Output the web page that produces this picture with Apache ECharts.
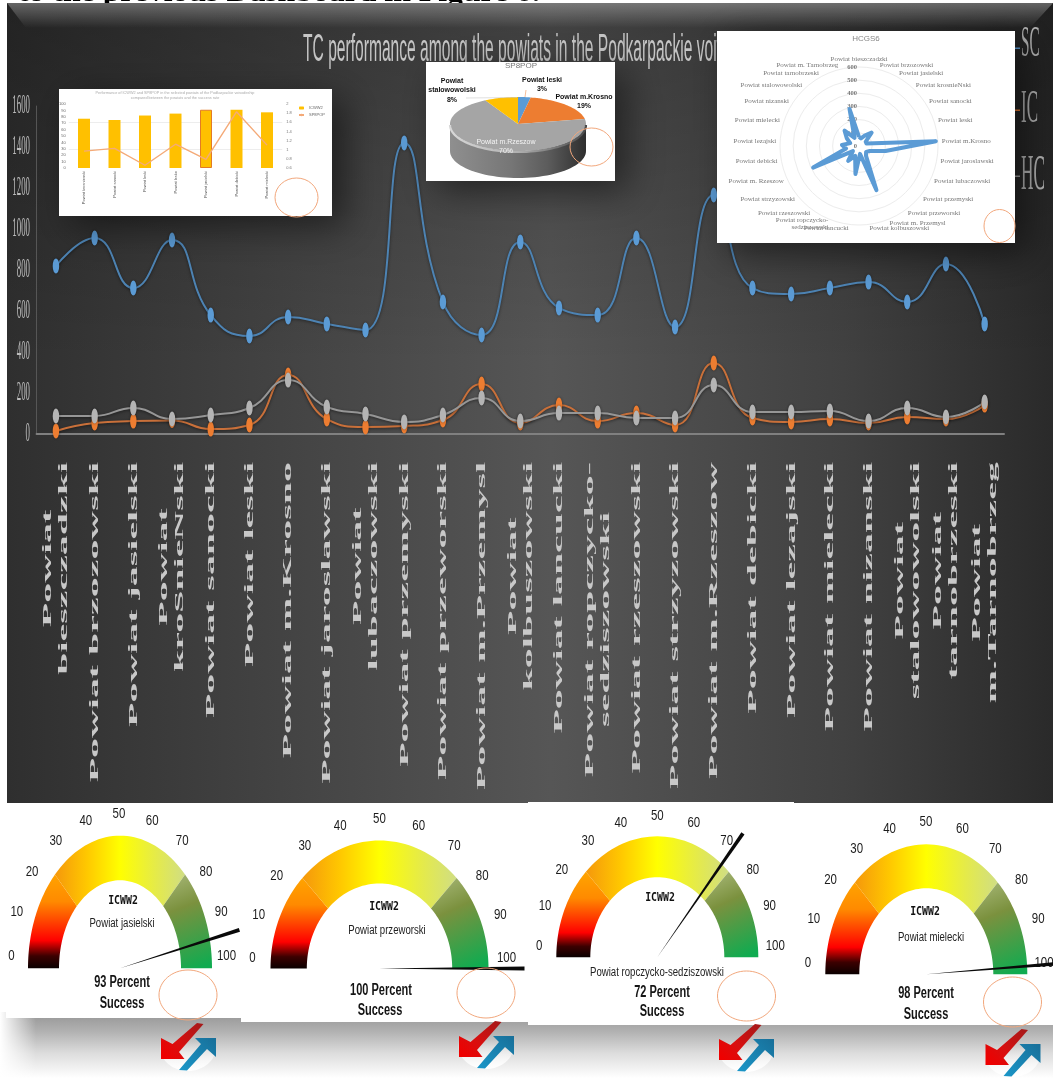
<!DOCTYPE html>
<html>
<head>
<meta charset="utf-8">
<title>TC performance dashboard</title>
<style>html,body{margin:0;padding:0;background:#fff}#chart{width:1053px;height:1078px}</style>
<script src="https://cdn.jsdelivr.net/npm/echarts@6/dist/echarts.min.js"></script>
</head>
<body>
<div id="chart"></div>
<script>
// Values per powiat for the three competence series of the main line chart
const powiatLabels = ['Powiat\nbieszczadzki','Powiat brzozowski','Powiat jasielski','Powiat\nkroSnieNski','Powiat sanocki','Powiat leski','Powiat m.Krosno','Powiat jaroslawski','Powiat\nlubaczowski','Powiat przemyski','Powiat przeworski','Powiat m.Przemysl','Powiat\nkolbuszowski','Powiat lancucki','Powiat ropczycko-\nsedziszowski','Powiat rzeszowski','Powiat strzyzowski','Powiat m.Rzeszow','Powiat debicki','Powiat lezajski','Powiat mielecki','Powiat nizanski','Powiat\nstalowowolski','Powiat\ntarnobrzeski','Powiat\nm.Tarnobrzeg'];
const scValues = [820,956,712,946,580,478,571,537,507,1420,644,483,937,615,580,956,522,1166,712,683,712,741,644,829,537];
const icValues = [15,54,63,66,24,44,288,73,34,39,68,244,54,141,63,102,44,346,78,59,73,54,83,73,141];
const hcValues = [88,88,127,73,93,127,263,132,98,59,93,176,63,102,102,78,78,239,107,107,112,63,127,83,156];
const mainTicks = [0,200,400,600,800,1000,1200,1400,1600];
const mainTitle = 'TC performance among the powiats in the Podkarpackie voivodeship';

// Combination chart in the upper left panel
const comboNames = ['Powiat krosnienski','Powiat sanocki','Powiat leski','Powiat lesko','Powiat jasielski','Powiat debicki','Powiat mielecki'];
const comboBars = [77,75,82,85,91,91,87];
const comboLine = [0.97,1.03,0.66,1.12,0.79,1.83,1.10];
const comboGuides = [1,1.6];

// 3D style pie
const pieNames = ['Powiat leski','Powiat m.Krosno','Powiat m.Rzeszow','Powiat\nstalowowolski'];
const pieValues = [3,19,70,8];

// Radar of HCGS6, listed clockwise from the top
const radarNames = ['Powiat bieszczadzki','Powiat brzozowski','Powiat jasielski','Powiat krosnieNski','Powiat sanocki','Powiat leski','Powiat m.Krosno','Powiat jaroslawski','Powiat lubaczowski','Powiat przemyski','Powiat przeworski','Powiat m. Przemysl','Powiat kolbuszowski','Powiat lancucki','Powiat ropczycko-\nsedziszowski','Powiat rzeszowski','Powiat strzyzowski','Powiat m. Rzeszow','Powiat debicki','Powiat lezajski','Powiat mielecki','Powiat nizanski','Powiat stalowowolski','Powiat tarnobrzeski','Powiat m. Tarnobrzeg'];
const radarValues = [70,60,90,140,60,60,585,205,90,70,90,360,60,215,80,140,60,385,100,130,70,110,160,70,290];

// Success gauges
const gaugeNames = ['Powiat jasielski','Powiat przeworski','Powiat ropczycko-sedziszowski','Powiat mielecki'];
const gaugeValues = [93,100,72,98];
const gaugeTicks = [0,10,20,30,40,50,60,70,80,90,100];

const chart = echarts.init(document.getElementById('chart'), null, {renderer:'canvas'});
const {LinearGradient} = echarts.graphic;
const sansFont = '"Liberation Sans", Arial, sans-serif';
const serifFont = '"Liberation Serif", "Times New Roman", serif';

// Elliptical arc geometry for the half-round gauges
const gaugeLayout = [
  {cx:120, base:968.3, rx:92,  ry:132.6, irx:61,   iry:88, lx:119,   ly:956,   lrx:107.5, lry:142.7, title:[123,901], sub:[122,924], pct:[122,983], ok:[122,1004]},
  {cx:379.5,base:968.5,rx:109, ry:128,   irx:72.7, iry:85, lx:379.5, ly:957.7, lrx:127,   lry:138.7, title:[384,907], sub:[387,931], pct:[381,991], ok:[380,1011]},
  {cx:657.3,base:957.3,rx:101, ry:121,   irx:67,   iry:80, lx:657.3, ly:946,   lrx:118,   lry:130,   title:[660,898], sub:[657,973], pct:[662,993], ok:[662,1012]},
  {cx:926.3,base:974.3,rx:101, ry:130,   irx:67,   iry:86, lx:926,   ly:962.7, lrx:118,   lry:141,   title:[925,912], sub:[931,938], pct:[926,994], ok:[926,1015]}
];

function bandPoints(g, from, to) {
  const pts = [];
  const n = 40;
  for (let i = 0; i <= n; i++) {
    const a = Math.PI * (1 - (from + (to - from) * i / n) / 100);
    pts.push([g.cx + g.rx * Math.cos(a), g.base - g.ry * Math.sin(a)]);
  }
  for (let i = n; i >= 0; i--) {
    const a = Math.PI * (1 - (from + (to - from) * i / n) / 100);
    pts.push([g.cx + g.irx * Math.cos(a), g.base - g.iry * Math.sin(a)]);
  }
  return pts;
}

function renderGauge(gaugeIdx) {
  return function (params, api) {
    const g = gaugeLayout[gaugeIdx];
    const value = api.value(0);
    const top = g.base - g.ry;
    const children = [];
    children.push({type:'polygon', shape:{points:bandPoints(g,0,25)}, style:{fill:new LinearGradient(0,g.base,0,top+30,[
      {offset:0,color:'#0a0000'},{offset:0.12,color:'#3c0000'},{offset:0.27,color:'#ff0000'},{offset:0.65,color:'#ff8a00'},{offset:1,color:'#ffab00'}],true)}});
    children.push({type:'polygon', shape:{points:bandPoints(g,25,75)}, style:{fill:new LinearGradient(g.cx-g.rx*0.72,0,g.cx+g.rx*0.72,0,[
      {offset:0,color:'#f5960c'},{offset:0.25,color:'#ffc800'},{offset:0.5,color:'#ffff00'},{offset:0.78,color:'#e4ea4c'},{offset:1,color:'#cfdd86'}],true)}});
    children.push({type:'polygon', shape:{points:bandPoints(g,75,100)}, style:{fill:new LinearGradient(g.cx+g.rx*0.45,top+35,g.cx+g.rx*0.85,g.base,[
      {offset:0,color:'#aebd80'},{offset:0.4,color:'#7b913e'},{offset:1,color:'#10ab50'}],true)}});
    gaugeTicks.forEach(t => {
      const a = Math.PI * (1 - t / 100);
      children.push({type:'text', x:g.lx + g.lrx*Math.cos(a), y:g.ly - g.lry*Math.sin(a), scaleX:0.82, scaleY:1.1,
        style:{text:String(t), fill:'#1c1c1c', font:'500 14px '+sansFont, align:'center', verticalAlign:'middle'}});
    });
    children.push({type:'text', x:g.title[0], y:g.title[1], scaleX:0.82, style:{text:'ICWW2', fill:'#111', font:'bold 12px "DejaVu Sans Mono", monospace', align:'center', verticalAlign:'middle'}});
    children.push({type:'text', x:g.sub[0], y:g.sub[1], scaleX:0.8, style:{text:gaugeNames[gaugeIdx], fill:'#222', font:'12px '+sansFont, align:'center', verticalAlign:'middle'}});
    children.push({type:'text', x:g.pct[0], y:g.pct[1], scaleX:0.76, scaleY:1.1, style:{text:value+' Percent', fill:'#151515', font:'bold 14.5px '+sansFont, align:'center', verticalAlign:'middle'}});
    children.push({type:'text', x:g.ok[0], y:g.ok[1], scaleX:0.76, scaleY:1.1, style:{text:'Success', fill:'#151515', font:'bold 14.5px '+sansFont, align:'center', verticalAlign:'middle'}});
    // Needle: hair-thin at the hub, widening towards the tip
    const a = Math.PI * (1 - value / 100);
    const k = 1.33;
    const tx = g.cx + k*g.rx*Math.cos(a), ty = g.base - k*g.ry*Math.sin(a);
    const len = Math.hypot(tx-g.cx, ty-g.base);
    const nx = -(ty-g.base)/len*1.9, ny = (tx-g.cx)/len*1.9;
    children.push({type:'polygon', shape:{points:[[g.cx,g.base],[tx+nx,ty+ny],[tx-nx,ty-ny]]}, style:{fill:'#0a0a0a'}});
    return {type:'group', children};
  };
}

// Pie drawn on a tilted ellipse with a shaded rim
const pieGeom = {cx:518, cy:124, rx:68, ry:27, depth:27};
const pieColors = ['#5b9bd5','#ed7d31','#a5a5a5','#ffc000'];
const pieLabelAt = [[542,75,'#111','bold'],[584,92,'#111','bold'],[506,137,'#f4f4f4','normal'],[452,76,'#111','bold']];
function piePoint(pct, dy) {
  const a = pct / 100 * Math.PI * 2;
  return [pieGeom.cx + pieGeom.rx*Math.sin(a), pieGeom.cy - pieGeom.ry*Math.cos(a) + (dy||0)];
}
function renderPie(params, api) {
  const i = params.dataIndex;
  const children = [];
  const pg = pieGeom;
  if (i === 0) {
    const upper = [], lower = [];
    for (let p = 25; p <= 75; p += 1) { upper.push(piePoint(p)); lower.unshift(piePoint(p, pg.depth)); }
    children.push({type:'polygon', shape:{points:upper.concat(lower)}, style:{fill:new LinearGradient(pg.cx-pg.rx,0,pg.cx+pg.rx,0,[
      {offset:0,color:'#8f8f8f'},{offset:0.45,color:'#767676'},{offset:0.72,color:'#5c5c5c'},{offset:1,color:'#2e2e2e'}],true)}});
  }
  const start = pieValues.slice(0,i).reduce((s,v)=>s+v,0);
  const end = start + api.value(0);
  const pts = [[pg.cx,pg.cy]];
  for (let p = start; p <= end + 1e-6; p += 0.5) pts.push(piePoint(p));
  children.push({type:'polygon', shape:{points:pts}, style:{fill:pieColors[i]}});
  if (i === 2) {
    const rim = [];
    for (let p = 25; p <= 75; p += 1) rim.push(piePoint(p, 1));
    children.push({type:'polyline', shape:{points:rim}, style:{fill:null, lineWidth:2.2, stroke:new LinearGradient(pg.cx-pg.rx,0,pg.cx+pg.rx,0,[
      {offset:0,color:'#d8d8d8'},{offset:0.5,color:'#b0b0b0'},{offset:1,color:'#4a4a4a'}],true)}});
  }
  const lab = pieLabelAt[i];
  children.push({type:'text', x:lab[0], y:lab[1], style:{text:pieNames[i]+'\n'+api.value(0)+'%', fill:lab[2], font:lab[3]+' 7px '+sansFont, lineHeight:9.5, align:'center', verticalAlign:'top'}});
  return {type:'group', children};
}

// The radar axes run anticlockwise, so the clockwise list is mirrored around its first entry
const flipClockwise = list => [list[0], ...list.slice(1).reverse()];

const seriesList = [];
function addMain(name, data, color, lineColor) {
  seriesList.push({type:'line', name, data, xAxisIndex:0, yAxisIndex:0, z:3, smooth:0.5, symbol:'circle', symbolSize:[6.5,15],
    itemStyle:{color, shadowBlur:3, shadowColor:'rgba(0,0,0,0.45)'},
    lineStyle:{color:lineColor, width:2, shadowBlur:3, shadowColor:'rgba(0,0,0,0.5)', shadowOffsetY:1}});
}
addMain('SC', scValues, '#5b9bd5', '#4d83b3');
addMain('IC', icValues, '#ed7d31', '#c9703a');
addMain('HC', hcValues, '#b4b4b4', '#969696');

seriesList.push({type:'bar', name:'ICWW2', data:comboBars.map((v,i)=> i===4 ? {value:v,itemStyle:{borderColor:'#e37b24',borderWidth:1}} : v), xAxisIndex:1, yAxisIndex:1, barWidth:12, z:12, itemStyle:{color:'#ffc000'}});
seriesList.push({type:'line', name:'SP8POP', data:comboLine, xAxisIndex:1, yAxisIndex:2, z:13, symbol:'none', itemStyle:{color:'#f4aa78'}, lineStyle:{color:'#f4aa78', width:1.4},
  markLine:{silent:true, symbol:'none', label:{show:false}, z:11, lineStyle:{color:'#ededed', width:1, type:'solid'}, data:comboGuides.map(v=>({yAxis:v}))}});
seriesList.push({type:'custom', name:'SP8POP share', coordinateSystem:'none', z:12, data:pieValues.map(v=>[v]), renderItem:renderPie, silent:true});
seriesList.push({type:'radar', name:'HCGS6', radarIndex:0, z:13, symbol:'none', lineStyle:{color:'#5b9bd5', width:4}, data:[{value:flipClockwise(radarValues)}]});
gaugeValues.forEach((v,i)=>{
  seriesList.push({type:'custom', name:'ICWW2 '+gaugeNames[i], coordinateSystem:'none', z:12, data:[[v]], renderItem:renderGauge(i), silent:true});
});

const hiddenAxisLine = {show:false};
const baseOption = {
  animation:false,
  backgroundColor:'#ffffff',
  grid:[
    {left:36.6, right:49, top:106, bottom:644, containLabel:false},
    {left:68.75, top:104, width:213.5, height:64, z:12}
  ],
  xAxis:[
    {type:'category', gridIndex:0, data:powiatLabels, axisLabel:{show:false}, axisTick:{show:false}, axisLine:{lineStyle:{color:'#808080',width:2}}, z:1},
    {type:'category', gridIndex:1, data:comboNames, axisTick:{show:false}, axisLine:hiddenAxisLine, z:12, axisLabel:{rotate:90, fontSize:4, color:'#555', fontFamily:sansFont, interval:0, margin:3}}
  ],
  yAxis:[
    {type:'value', gridIndex:0, min:0, max:1600, interval:200, axisLabel:{show:false}, axisTick:{show:false}, axisLine:{show:true,lineStyle:{color:'#565656',width:1}}, splitLine:{show:false}, z:1},
    {type:'value', gridIndex:1, min:0, max:100, interval:10, splitLine:{show:false}, axisTick:{show:false}, axisLine:hiddenAxisLine, z:12, axisLabel:{fontSize:4, color:'#666', margin:3, fontFamily:sansFont}},
    {type:'value', gridIndex:1, position:'right', min:0.6, max:2, interval:0.2, splitLine:{show:false}, axisTick:{show:false}, axisLine:hiddenAxisLine, z:12, axisLabel:{fontSize:4, color:'#777', margin:4, fontFamily:sansFont}}
  ],
  legend:{data:['ICWW2','SP8POP'], orient:'vertical', left:298, top:106, z:12, itemWidth:5, itemHeight:3, itemGap:3, padding:0, textStyle:{fontSize:4, color:'#666', fontFamily:sansFont}},
  radar:{center:[859,146], radius:79, startAngle:90, splitNumber:6, shape:'circle', z:12,
    indicator:flipClockwise(radarNames).map((name,i)=> i===0 ? {name, min:0, max:600, axisLabel:{show:true}} : {name, min:0, max:600}),
    nameGap:4, axisName:{color:'#777', fontSize:7, fontFamily:serifFont},
    axisLine:{show:false}, axisTick:{show:false}, axisLabel:{show:false, fontSize:6.5, fontWeight:'bold', color:'#777', fontFamily:serifFont, margin:2},
    splitArea:{show:false}, splitLine:{lineStyle:{color:'#ececec',width:1}}},
  series:seriesList
};

chart.setOption(baseOption);

// Background, panels, stretched text and decoration, positioned against the axes just laid out
const measureCtx = document.createElement('canvas').getContext('2d');
function textWidth(text, font){ measureCtx.font = font; return measureCtx.measureText(text).width; }

const els = [];
// Line of text running under the panel's top edge
els.push({type:'text', z:0, x:18, y:8, scaleX:1.134, style:{text:'to the previous Dashboard in Figure 6.', fill:'#000', font:'bold 28px '+serifFont, align:'left', verticalAlign:'bottom'}});

els.push({type:'rect', z:0, shape:{x:7,y:3,width:1046,height:800}, style:{fill:new LinearGradient(7,0,1053,0,[
  {offset:0,color:'#2f2f2f'},{offset:0.22,color:'#404040'},{offset:0.52,color:'#565656'},{offset:0.8,color:'#414141'},{offset:1,color:'#2a2a2a'}],true)}});
els.push({type:'rect', z:0, shape:{x:7,y:3,width:1046,height:360}, style:{fill:new LinearGradient(0,3,0,363,[
  {offset:0,color:'rgba(0,0,0,0.26)'},{offset:1,color:'rgba(0,0,0,0)'}],true)}});
els.push({type:'polygon', z:0, shape:{points:[[7,3],[1053,3],[1030,28],[26,28]]}, style:{fill:new LinearGradient(0,3,0,28,[
  {offset:0,color:'rgba(255,255,255,0.3)'},{offset:1,color:'rgba(255,255,255,0)'}],true)}});

// Stretched chart title, partly covered by the floating panels
els.push({type:'text', z:2, x:303, y:50, scaleX:0.78, scaleY:1.95, style:{text:mainTitle, fill:'#c6c6c6', font:'20px '+sansFont, align:'left', verticalAlign:'middle'}});

mainTicks.forEach(t=>{
  const y = chart.convertToPixel({yAxisIndex:0}, t);
  els.push({type:'text', z:2, x:30, y, scaleX:0.63, scaleY:2, style:{text:String(t), fill:'#bcbcbc', font:'14px '+serifFont, align:'right', verticalAlign:'middle'}});
});

const catFont = 'bold 13px '+serifFont;
const catScale = 3.07;
powiatLabels.forEach((label,i)=>{
  const x = chart.convertToPixel({xAxisIndex:0}, i);
  const w = Math.max(...label.split('\n').map(l=>textWidth(l,catFont)))*catScale;
  els.push({type:'text', z:2, x, y:462+w/2, rotation:Math.PI/2, scaleX:catScale, style:{text:label, fill:'#c8c8c8', font:catFont, lineHeight:16, align:'center', verticalAlign:'middle'}});
});

// Series key at the right border
[['SC',44.5,'#5b9bd5',1.0,2.2,0.76],['IC',109.5,'#ed7d31',1.0,2.3,0.85],['HC',175.5,'#a5a5a5',1.0,2.5,0.86]].forEach(k=>{
  els.push({type:'text', z:2, x:1021, y:k[1], scaleX:k[5], scaleY:k[4], style:{text:k[0], fill:'#b4b4b4', font:'20px '+serifFont, align:'left', verticalAlign:'middle'}});
  els.push({type:'rect', z:2, shape:{x:1015,y:k[1]+ (k[0]==='SC'?3:0),width:5,height:1.5}, style:{fill:k[2]}});
});

const panelShadow = {shadowBlur:34, shadowColor:'rgba(0,0,0,0.5)', shadowOffsetX:12, shadowOffsetY:10};
[[59,89,273,127],[426,62,189,119],[717,31,298,212]].forEach(p=>{
  els.push({type:'rect', z:10, shape:{x:p[0],y:p[1],width:p[2],height:p[3]}, style:Object.assign({fill:'#fff'},panelShadow)});
});
els.push({type:'text', z:12, x:175, y:92.5, style:{text:'Performance of ICWW2 and SP8POP in the selected powiats of the Podkarpackie voivodeship', fill:'#aaa', font:'3.8px '+sansFont, align:'center', verticalAlign:'middle'}});
els.push({type:'text', z:12, x:175, y:98, style:{text:'compared between the powiats and the success rate', fill:'#aaa', font:'3.8px '+sansFont, align:'center', verticalAlign:'middle'}});
els.push({type:'text', z:12, x:521, y:66, style:{text:'SP8POP', fill:'#777', font:'8px '+sansFont, align:'center', verticalAlign:'middle'}});
els.push({type:'text', z:12, x:866, y:38.5, style:{text:'HCGS6', fill:'#888', font:'8px '+sansFont, align:'center', verticalAlign:'middle'}});
els.push({type:'line', z:12, shape:{x1:466,y1:98,x2:517,y2:97.5}, style:{stroke:'#c9c9c9',lineWidth:0.6}});
els.push({type:'line', z:12, shape:{x1:526,y1:90,x2:525,y2:97}, style:{stroke:'#ed7d31',lineWidth:0.5}});

// Grey fall-off below the gauge panels
els.push({type:'rect', z:5, shape:{x:0,y:1012,width:1053,height:66}, style:{fill:new LinearGradient(0,1012,0,1078,[
  {offset:0,color:'#949494'},{offset:0.3,color:'#b2b2b2'},{offset:0.62,color:'#dcdcdc'},{offset:1,color:'#ffffff'}],true)}});
els.push({type:'rect', z:5, shape:{x:0,y:1012,width:36,height:66}, style:{fill:new LinearGradient(0,0,36,0,[
  {offset:0,color:'rgba(255,255,255,1)'},{offset:1,color:'rgba(255,255,255,0)'}],true)}});
[[6,804,235,214],[241,804,287,218],[528,802,266,223],[794,804,259,221]].forEach(p=>{
  els.push({type:'rect', z:10, shape:{x:p[0],y:p[1],width:p[2],height:p[3]}, style:{fill:'#fff'}});
});

// Hand-drawn rings
[[296.5,197.5,21.5,19.5],[591.5,147,21.5,19],[999.5,226,15.5,16.5],[188,995,29,25],[486,993,29,25],[746.5,996,29,25],[1012.5,1002,29,25]].forEach(r=>{
  els.push({type:'ellipse', z:20, shape:{cx:r[0],cy:r[1],rx:r[2],ry:r[3]}, style:{fill:null, stroke:'#f2a77c', lineWidth:1}});
});

// Exchange arrows under each gauge
function arrowLogo(cx, cy){
  const at = pts => pts.map(p=>[cx+p[0], cy+p[1]]);
  els.push({type:'ellipse', z:21, shape:{cx,cy,rx:28,ry:24}, style:{fill:new LinearGradient(0,cy-6,0,cy+24,[
    {offset:0,color:'rgba(255,255,255,0)'},{offset:1,color:'rgba(255,255,255,1)'}],true)}});
  els.push({type:'polygon', z:22, shape:{points:at([[-27,-9],[-27,12],[-3.5,12],[-9,5],[15.5,-23],[9,-24],[-15.5,-3]])}, style:{fill:new LinearGradient(cx+14,cy-24,cx-22,cy+12,[
    {offset:0,color:'#a51a1a'},{offset:0.6,color:'#d80f0f'},{offset:1,color:'#ef0000'}],true)}});
  els.push({type:'polygon', z:22, shape:{points:at([[28,-9],[7,-9],[13,-3],[-9,23],[-1,23.5],[19,2],[28,10]])}, style:{fill:new LinearGradient(cx+26,cy-9,cx-8,cy+23,[
    {offset:0,color:'#18709a'},{offset:1,color:'#1b96c8'}],true)}});
}
[[188,1047],[486,1045],[746,1048],[1012.5,1053]].forEach(p=>arrowLogo(p[0],p[1]));

chart.setOption({graphic:{elements:els}});
</script>
</body>
</html>
